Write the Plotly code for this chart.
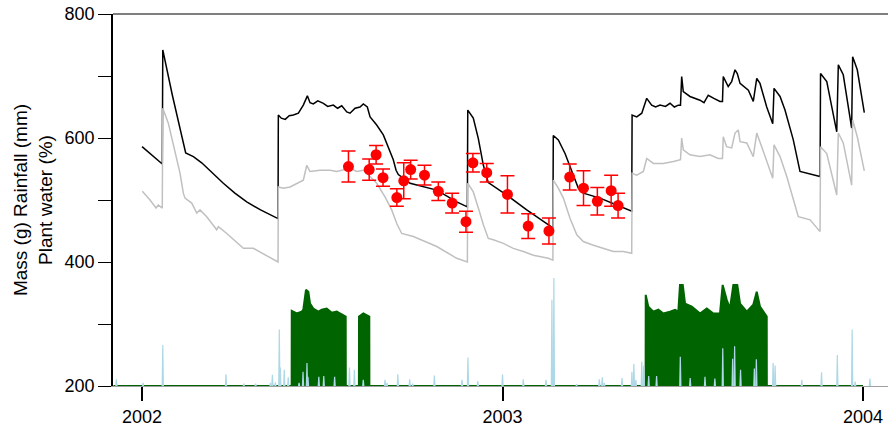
import pandas as pd
import plotly.graph_objects as go

BASE = pd.Timestamp("2002-01-01")

# ---- Data (days since 2002-01-01) ----
mass_day = [0, 20.5, 21, 30.7, 44.2, 52, 60.4, 70, 82.3, 94, 106, 120, 137.7, 138, 141, 145, 149,
            153.2, 158.3, 163.3, 167.4, 170.1, 173.4, 178, 183.6, 188, 193.7, 198, 202.2, 207.3,
            210.6, 215.7, 220.7, 224.1, 228.1, 230.9, 237.6, 244.3, 249.4, 254.4, 257.2, 259.5,
            271.4, 298.4, 318.6, 329.4, 329.8, 335.4, 340.5, 345.6, 350.6, 369.3, 389.5, 411.4,
            416, 416.4, 421.5, 428.3, 435.1, 441.8, 446.8, 463.7, 480.6, 495.8, 496.2, 500.9, 506,
            511, 516, 520, 524.5, 530, 534.6, 539, 543, 545.2, 546.4, 548, 554.8, 560, 564.9,
            569, 573.3, 579, 585.2, 587.7, 588.5, 593.5, 597, 600.4, 602.7, 605.5, 613.9, 618.9,
            622.4, 625.7, 632.5, 638.6, 639.9, 646, 651, 659.4, 666.2, 686.5, 687, 693.3, 703.4,
            705, 710, 718.5, 719.5, 724.2, 731.3]
mass_val = [586, 558, 742, 669, 576, 570, 560, 545, 527, 511, 497, 484, 470, 637, 632, 630, 636,
            637, 640, 653, 668, 657, 655, 660, 656, 651, 653, 648, 652, 642, 640, 648, 650, 655,
            650, 634, 621, 605, 586, 565, 548, 541, 527, 516, 497, 489, 645, 632, 599, 556, 528,
            508, 484, 459, 455, 604, 597, 575, 546, 519, 511, 503, 492, 482, 637, 634, 640, 664,
            653, 650, 653, 651, 656, 650, 653, 653, 699, 675, 667, 664, 661, 657, 669, 664, 659,
            659, 699, 683, 691, 710, 704, 688, 677, 659, 696, 688, 650, 623, 680, 667, 645, 597,
            546, 538, 704, 691, 610, 718, 702, 616, 731, 710, 641]

water_day = [0.3, 8.1, 14.2, 16.5, 20.5, 21, 26.6, 31.7, 38.5, 41.8, 43.5, 50.3, 55.4, 58.7, 65.5,
             75.6, 77.3, 85.8, 102.6, 112.7, 137.7, 138, 143.1, 149.9, 156.6, 163.3, 166.8, 170.1,
             180.2, 190.4, 197.1, 210.6, 217.4, 224.1, 230.9, 237.6, 246, 252.8, 257.9, 262.9,
             274.7, 298.4, 318.6, 329.4, 329.8, 335.4, 340.5, 345.6, 350.6, 355.7, 365.8, 375.9,
             386.1, 396.2, 411.4, 416, 416.4, 421.5, 426.6, 433.4, 440.2, 446.8, 457, 467.1,
             477.2, 487.4, 495.8, 496.2, 500.9, 507.6, 511, 517.8, 527.9, 538, 545.2, 546.4, 548,
             554.8, 564.9, 575, 583.4, 587.7, 588.5, 591.9, 597, 600.4, 603.7, 605.5, 612.3,
             618.9, 622.4, 627.4, 634.2, 638.6, 639.9, 646, 652.8, 659.4, 664.5, 676.4, 686.5,
             687, 693.3, 703.4, 705, 710, 718.5, 719.5, 724.2, 731.3]
water_val = [514, 500, 487, 492, 487, 648, 624, 591, 543, 511, 503, 495, 479, 484, 473, 452, 457,
             446, 422, 422, 400, 521, 519, 521, 527, 532, 556, 546, 548, 548, 546, 551, 546, 548,
             538, 527, 505, 484, 462, 446, 441, 425, 406, 400, 527, 513, 487, 460, 438, 436, 430,
             422, 417, 411, 406, 403, 532, 519, 503, 470, 444, 433, 427, 422, 417, 417, 414, 543,
             540, 546, 567, 559, 559, 562, 565, 600, 581, 573, 570, 573, 567, 567, 602, 586, 584,
             608, 613, 594, 592, 570, 608, 586, 554, 535, 589, 570, 538, 500, 473, 468, 449, 586,
             575, 508, 608, 592, 524, 629, 602, 547]

green_day = [-29, 151.5, 151.6, 156.6, 161.7, 163.3, 166, 168.4, 170.1, 173.4, 178.5, 182, 187,
             192.1, 197.1, 206.2, 206.3, 219.6, 219.7, 224.1, 230.1, 230.2, 509.9, 510, 512.6,
             517.7, 522.8, 527.8, 534.6, 539.7, 543, 544.7, 547.5, 549.8, 556.6, 565, 571.8,
             578.5, 585.2, 587.9, 592, 595.3, 598.7, 602.7, 605.5, 612.3, 618.9, 622.4, 625.7,
             632.5, 632.6, 730]
green_val = [200, 200, 321, 317, 320, 323, 355, 352, 333, 325, 320, 323, 325, 318, 320, 312, 200,
             200, 312, 317, 312, 200, 200, 347, 328, 320, 323, 317, 320, 323, 320, 363, 363, 333,
             328, 317, 325, 317, 317, 363, 339, 325, 363, 363, 333, 320, 331, 352, 328, 312, 200,
             200]

rain_day = [-26, 1, 21, 85, 103, 115, 130, 132, 135, 139, 140, 144, 148, 159, 163, 167, 168, 179,
            184, 195, 210, 215, 224, 246, 248, 259, 271, 274, 296, 324, 330, 340, 365, 386, 409,
            415, 417, 440, 463, 466, 468, 486, 496, 498, 500, 506, 508, 513, 521, 545, 555, 570,
            580, 588, 598, 600, 606, 620, 622, 639, 641, 668, 688, 704, 719, 722, 737]
rain_val = [211, 205, 266, 219, 204, 204, 205, 218, 206, 291, 230, 226, 214, 205, 223, 237, 215,
            215, 216, 215, 230, 226, 210, 210, 205, 219, 211, 204, 217, 210, 246, 208, 219, 211,
            210, 339, 374, 203, 211, 214, 205, 213, 223, 236, 210, 239, 233, 216, 216, 247, 213,
            215, 212, 261, 244, 264, 226, 228, 243, 237, 233, 210, 222, 250, 291, 207, 212]

pt_date = ["2002-07-29", "2002-08-19", "2002-08-26", "2002-09-02", "2002-09-16", "2002-09-23",
           "2002-09-30", "2002-10-14", "2002-10-28", "2002-11-11", "2002-11-25", "2002-12-02",
           "2002-12-16", "2003-01-06", "2003-01-27", "2003-02-17", "2003-03-10", "2003-03-24",
           "2003-04-07", "2003-04-21", "2003-04-28"]
pt_val = [554, 549, 573, 536, 504, 531, 549, 540, 514, 495, 465, 560, 544, 509, 458, 450, 537,
          519, 498, 515, 491]
pt_err = [25, 17, 15, 14, 14, 29, 15, 16, 15, 16, 17, 15, 15, 30, 20, 21, 21, 28, 22, 25, 20]

y_tickvals = [200, 300, 400, 500, 600, 700, 800]
y_ticktext = ["200", "", "400", "", "600", "", "800"]
x_tickvals = ["2002-01-01", "2003-01-01", "2004-01-01"]
x_ticktext = ["2002", "2003", "2004"]
x_range_days = [-29.4, 755.3]


def to_dates(days):
    return [BASE + pd.Timedelta(days=d) for d in days]


# rain spikes as separate thin peaks
rx, ry = [], []
for d, v in zip(rain_day, rain_val):
    rx += [BASE + pd.Timedelta(days=d - 0.6), BASE + pd.Timedelta(days=d),
           BASE + pd.Timedelta(days=d + 0.6), None]
    ry += [200, v, 200, None]

FONT = "Liberation Sans, Arial, Helvetica, sans-serif"

fig = go.Figure()
fig.add_trace(go.Scatter(x=to_dates(green_day), y=green_val, mode="lines",
                         line=dict(color="#006400", width=2), fill="tozeroy",
                         fillcolor="#006400", hoverinfo="skip", showlegend=False))
fig.add_trace(go.Scatter(x=rx, y=ry, mode="lines", line=dict(color="#add8e6", width=1.2),
                         connectgaps=False, showlegend=False))
fig.add_trace(go.Scatter(x=to_dates(mass_day), y=mass_val, mode="lines",
                         line=dict(color="#000000", width=1.5), showlegend=False))
fig.add_trace(go.Scatter(x=to_dates(water_day), y=water_val, mode="lines",
                         line=dict(color="#c0c0c0", width=1.5), showlegend=False))
fig.add_trace(go.Scatter(x=pt_date, y=pt_val, mode="markers",
                         marker=dict(color="#ff0000", size=11, line=dict(width=0)),
                         error_y=dict(type="data", array=pt_err, color="#ff0000",
                                      thickness=1.5, width=7),
                         showlegend=False))

fig.update_layout(
    width=888, height=431,
    margin=dict(l=113, r=0, t=14, b=45),
    paper_bgcolor="white", plot_bgcolor="white",
    font=dict(family=FONT, size=18, color="black"),
    xaxis=dict(type="date", range=[BASE + pd.Timedelta(days=x_range_days[0]),
                                   BASE + pd.Timedelta(days=x_range_days[1])],
               tickvals=x_tickvals, ticktext=x_ticktext, ticks="outside", ticklen=14,
               tickwidth=2, tickcolor="black", showgrid=False, zeroline=False,
               showline=True, linecolor="#a0a0a0", linewidth=1, layer="below traces",
               tickfont=dict(family=FONT, size=18)),
    yaxis=dict(range=[200, 800], tickvals=y_tickvals, ticktext=y_ticktext, ticks="outside",
               ticklen=13, tickwidth=1.2, tickcolor="black", showgrid=False, zeroline=False,
               showline=True, linecolor="black", linewidth=1.5,
               tickfont=dict(family=FONT, size=18),
               title=dict(text="Mass (g) Rainfall (mm)<br>Plant water (%)",
                          font=dict(family=FONT, size=19), standoff=7)),
    shapes=[dict(type="line", xref="paper", yref="paper", x0=0, x1=1, y0=1, y1=1,
                 line=dict(color="black", width=1.2))],
)

fig.write_html("out.html")
